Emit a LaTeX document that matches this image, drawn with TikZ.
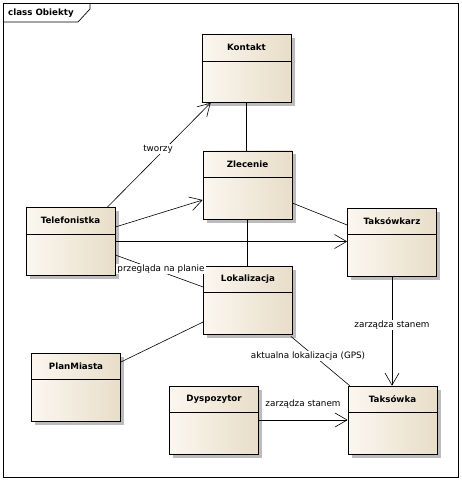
\documentclass[tikz,border=0pt]{standalone}
\usepackage{fontspec}
\setmainfont{DejaVu Sans}
\usetikzlibrary{arrows.meta,shadows}
\definecolor{boxL}{RGB}{251,247,240}
\definecolor{boxR}{RGB}{232,221,200}
\definecolor{shad}{RGB}{188,188,188}
\tikzset{
  classbox/.style={draw=black, line width=0.7pt, minimum width=89pt, minimum height=68pt,
    inner sep=0pt, shading=axis, left color=boxL, right color=boxR,
    drop shadow={shadow xshift=3.5pt, shadow yshift=-3.5pt, fill=shad, opacity=1},
    path picture={\draw[line width=0.7pt] ([yshift=-26.5pt]path picture bounding box.north west) -- ([yshift=-26.5pt]path picture bounding box.north east);}},
  cname/.style={font=\bfseries\fontsize{8.7}{10}\selectfont, text=black, inner sep=1pt},
  lab/.style={font=\fontsize{8.8}{10}\selectfont, fill=white, inner sep=1pt, text=black},
  conn/.style={line width=0.6pt},
  assoc/.style={line width=0.6pt, -{Straight Barb[length=12pt,width=14pt,line width=0.6pt]}},
}
\begin{document}
\begin{tikzpicture}[x=1pt,y=-1pt]
\useasboundingbox[fill=white] (0,0) rectangle (462,481);
% frame
\draw[line width=0.7pt] (3.5,3.5) rectangle (458,477.5);
\draw[line width=0.7pt] (3.5,22) -- (78,22) -- (90,9) -- (90,3.5);
\node[font=\bfseries\fontsize{8.7}{10}\selectfont, anchor=west, inner sep=0pt] (title) at (8,13) {class Obiekty};
% classes
\node[classbox] (kon) at (246.5,68.5) {};
\node[classbox] (zle) at (247.5,185) {};
\node[classbox] (tel) at (70.5,241.5) {};
\node[classbox] (takz) at (392,242) {};
\node[classbox] (lok) at (248,300) {};
\node[classbox] (plan) at (76,387) {};
\node[classbox] (dys) at (214,420) {};
\node[classbox] (taks) at (392.5,420) {};
\foreach \n/\t in {kon/Kontakt, zle/Zlecenie, tel/Telefonistka, takz/Taksówkarz, lok/Lokalizacja, plan/PlanMiasta, dys/Dyspozytor, taks/Taksówka}
  \node[cname] (\n-name) at ([yshift=-13.5pt]\n.north) {\t};
% connectors
\draw[conn] (kon.south) -- (kon.south |- zle.north);
\draw[conn] (zle.south) -- (zle.south |- lok.north);
\draw[assoc] ([xshift=-8pt]tel.north east) -- ([xshift=9pt]kon.south west);
\node[lab] (lt) at (158,149) {tworzy};
\draw[assoc] ([yshift=14.5pt]tel.east) -- ([yshift=-15pt]zle.west);
\draw[assoc] (tel.east) -- (tel.east -| takz.west);
\draw[conn] ([yshift=-18pt]zle.east) -- ([yshift=17pt]takz.west);
\draw[conn] ([yshift=-13.5pt]tel.east) -- ([yshift=13pt]lok.west);
\node[lab] (lp) at (161,269) {przegląda na planie};
\draw[conn] ([yshift=-22pt]lok.west) -- ([yshift=25pt]plan.east);
\draw[conn] ([xshift=-2pt,yshift=-2pt]lok.south east) -- ([xshift=2pt]taks.north west);
\node[lab] (lg) at (308,356) {aktualna lokalizacja (GPS)};
\draw[assoc] (takz.south) -- (takz.south |- taks.north);
\node[lab] (lz1) at (392,325) {zarządza stanem};
\draw[assoc] (dys.east) -- (dys.east -| taks.west);
\node[lab, fill=none] (lz2) at (303,404) {zarządza stanem};
\end{tikzpicture}
\end{document}
